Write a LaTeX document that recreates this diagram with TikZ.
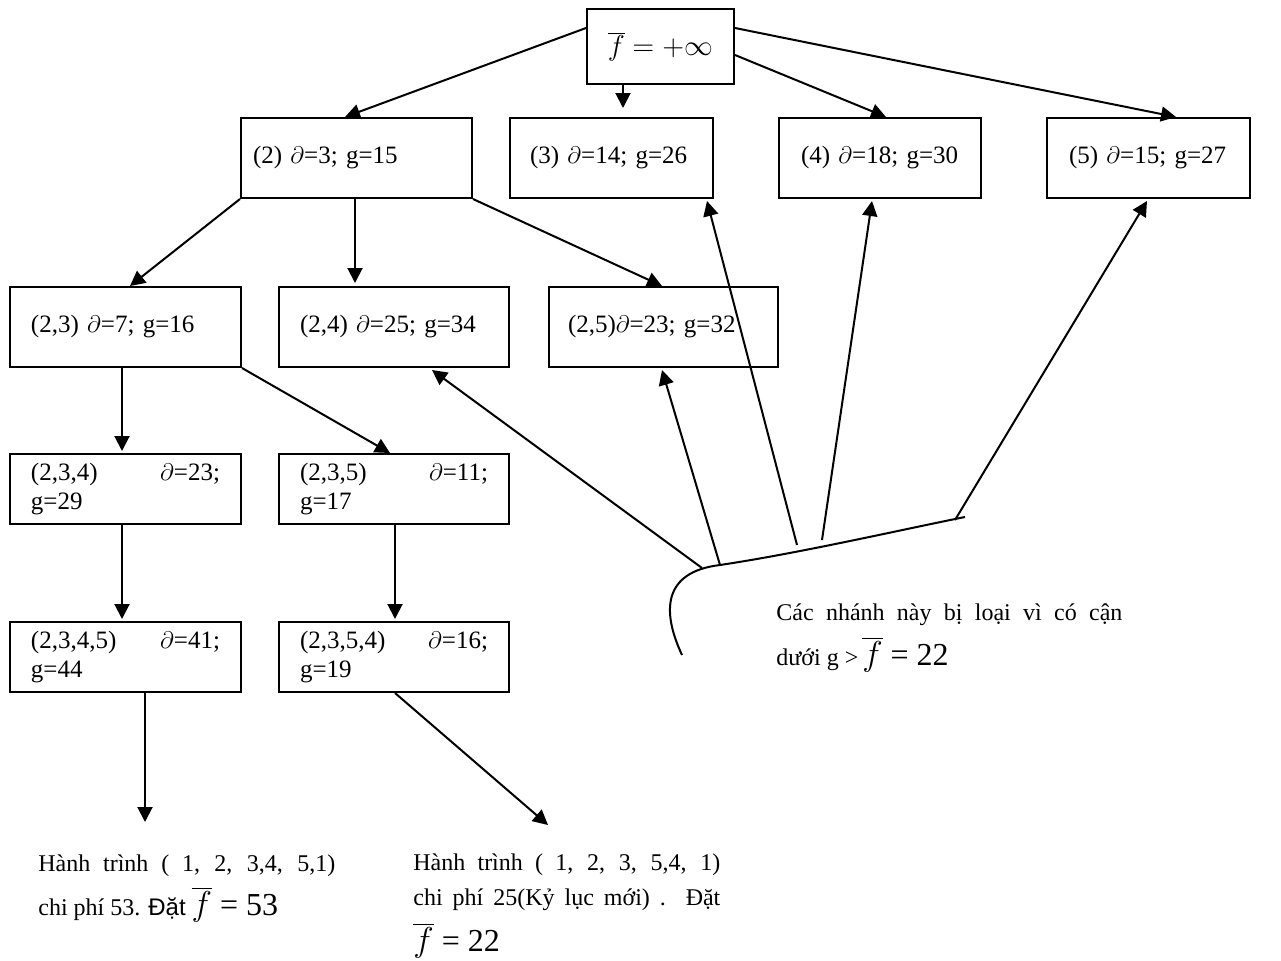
\documentclass[tikz,border=0pt]{standalone}
\usepackage{fontspec}
\setmainfont{Liberation Serif}
\newfontfamily\arialfont{Liberation Sans}
\usetikzlibrary{arrows.meta,calc}
\newcommand{\myfbar}{\ensuremath{\overline{f}}}
\newcommand{\bigmath}{\fontsize{16}{19}\selectfont}
\begin{document}
\begin{tikzpicture}[x=0.5pt,y=-0.5pt,
  box/.style={draw, line width=1pt, anchor=north west, align=left, inner ysep=0pt,
    font=\fontsize{12.5}{14.5}\selectfont},
  arr/.style={line width=1pt, -{Triangle[length=7.5pt,width=7.5pt]}},
  txt/.style={anchor=base west, inner sep=0pt, font=\fontsize{12}{14}\selectfont}]
\useasboundingbox (0,0) rectangle (1281,960);

% level 0
\node[box, align=center, inner xsep=0pt, minimum width=73.5pt, minimum height=37.5pt] (top) at (586,8)
  {\fontsize{15}{18}\selectfont\myfbar{} $=+\infty$};

% level 1
\node[box, text width=103.5pt, inner xsep=6pt, minimum height=40pt] (n2) at (240,117) {(2) $\partial$=3; g=15};
\node[box, text width=81.5pt, inner xsep=10pt, minimum height=40pt] (n3) at (509,117) {(3) $\partial$=14; g=26};
\node[box, text width=79pt, inner xsep=11pt, minimum height=40pt] (n4) at (778,117) {(4) $\partial$=18; g=30};
\node[box, text width=79.5pt, inner xsep=11pt, minimum height=40pt] (n5) at (1046,117) {(5) $\partial$=15; g=27};

% level 2
\node[box, text width=94.5pt, inner xsep=10.5pt, minimum height=40pt] (n23) at (9,286) {(2,3) $\partial$=7; g=16};
\node[box, text width=94pt, inner xsep=10.5pt, minimum height=40pt] (n24) at (278,286) {(2,4) $\partial$=25; g=34};
\node[box, text width=95.5pt, inner xsep=9.5pt, minimum height=40pt] (n25) at (548,286) {(2,5)$\partial$=23; g=32};

% level 3
\node[box, text width=94.5pt, inner xsep=10.5pt, minimum height=35pt] (n234) at (9,453) {(2,3,4)\hfill$\partial$=23;\\g=29};
\node[box, text width=94pt, inner xsep=10.5pt, minimum height=35pt] (n235) at (278,453) {(2,3,5)\hfill$\partial$=11;\\g=17};

% level 4
\node[box, text width=94.5pt, inner xsep=10.5pt, minimum height=35pt] (n2345) at (9,621) {(2,3,4,5)\hfill$\partial$=41;\\g=44};
\node[box, text width=94pt, inner xsep=10.5pt, minimum height=35pt] (n2354) at (278,621) {(2,3,5,4)\hfill$\partial$=16;\\g=19};

% texts
\node[txt] (note1) at (776,620) {\makebox[173pt][s]{Các nhánh này bị loại vì có cận}};
\node[txt] (note2) at (776,665) {dưới g >\,{\bigmath\myfbar{} = 22}};

\node[txt] (h1a) at (38,871) {\makebox[148.5pt][s]{Hành trình ( 1, 2, 3,4, 5,1)}};
\node[txt] (h1b) at (38,915) {chi phí 53. {\arialfont Đặt} {\bigmath\myfbar{} = 53}};

\node[txt] (h2a) at (413,870) {\makebox[153.5pt][s]{Hành trình ( 1, 2, 3, 5,4, 1)}};
\node[txt] (h2b) at (413,905) {\makebox[153.5pt][s]{chi phí 25(Kỷ lục mới) . Đặt}};
\node[txt] (h2c) at (413,951) {\bigmath\myfbar{} = 22};

% free ends
\coordinate (e1) at (145,822);
\coordinate (e2) at (548,825);
\coordinate (c1) at (702,568);
\coordinate (c2) at (720,565);
\coordinate (c3) at (797,545);
\coordinate (c4) at (822,540);
\coordinate (c5) at (955,520);

% bracket curve
\draw[line width=1pt] (682,655) .. controls (662,612) and (662,572) .. (720,565)
  .. controls (800,553) and (900,530) .. (965,517);

% tree arrows
\draw[arr] ([yshift=-10pt]top.north west) -- ([xshift=52.5pt]n2.north west);
\draw[arr] ([xshift=18.5pt]top.south west) -- ([xshift=57pt,yshift=4.5pt]n3.north west);
\draw[arr] ([yshift=-23.5pt]top.north east) -- ([xshift=54pt]n4.north west);
\draw[arr] ([yshift=-10pt]top.north east) -- ([xshift=65pt]n5.north west);

\draw[arr] (n2.south west) -- ([xshift=60.5pt]n23.north west);
\draw[arr] ([xshift=57.5pt]n2.south west) -- ([xshift=38.5pt,yshift=1.5pt]n24.north west);
\draw[arr] (n2.south east) -- ([xshift=57pt]n25.north west);

\draw[arr] ([xshift=56.5pt]n23.south west) -- ([xshift=56.5pt,yshift=1pt]n234.north west);
\draw[arr] (n23.south east) -- ([xshift=56pt]n235.north west);

\draw[arr] ([xshift=56.5pt]n234.south west) -- ([xshift=56.5pt,yshift=1pt]n2345.north west);
\draw[arr] ([xshift=58.5pt]n235.south west) -- ([xshift=58.5pt,yshift=1pt]n2354.north west);

\draw[arr] ([xshift=68pt]n2345.south west) -- (e1);
\draw[arr] ([xshift=58.5pt]n2354.south west) -- (e2);

% pruned-branch arrows
\draw[arr] (c1) -- ([xshift=77pt,yshift=-1pt]n24.south west);
\draw[arr] (c2) -- ([xshift=57pt,yshift=-1pt]n25.south west);
\draw[arr] (c3) -- ([xshift=99pt,yshift=-1pt]n3.south west);
\draw[arr] (c4) -- ([xshift=47pt,yshift=-1pt]n4.south west);
\draw[arr] (c5) -- ([xshift=50.5pt,yshift=-1pt]n5.south west);
\end{tikzpicture}
\end{document}
